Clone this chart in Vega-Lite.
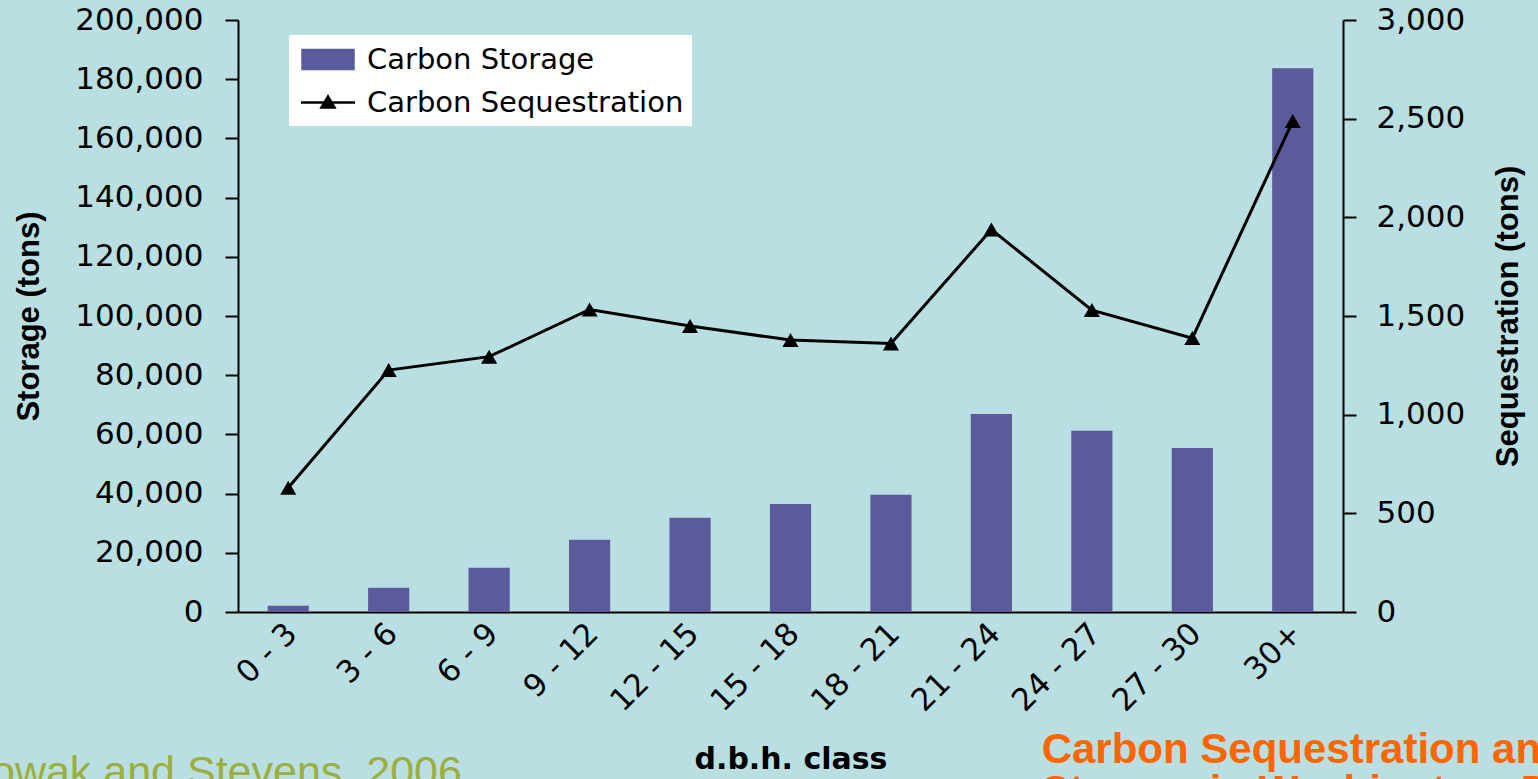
{
  "$schema": "https://vega.github.io/schema/vega-lite/v6.json",
  "width": 1105,
  "height": 592,
  "autosize": "none",
  "padding": {"left": 238, "top": 20, "right": 195, "bottom": 167},
  "background": "#B9DFE2",
  "config": {"view": {"stroke": null}, "axis": {"grid": false}},
  "datasets": {
    "dbh": [
      {"dbh_class": "0 - 3", "storage": 2100, "sequestration": 630},
      {"dbh_class": "3 - 6", "storage": 8200, "sequestration": 1226},
      {"dbh_class": "6 - 9", "storage": 14950, "sequestration": 1294},
      {"dbh_class": "9 - 12", "storage": 24400, "sequestration": 1533},
      {"dbh_class": "12 - 15", "storage": 31800, "sequestration": 1449},
      {"dbh_class": "15 - 18", "storage": 36500, "sequestration": 1378},
      {"dbh_class": "18 - 21", "storage": 39600, "sequestration": 1361},
      {"dbh_class": "21 - 24", "storage": 66900, "sequestration": 1938},
      {"dbh_class": "24 - 27", "storage": 61200, "sequestration": 1530},
      {"dbh_class": "27 - 30", "storage": 55400, "sequestration": 1388},
      {"dbh_class": "30+", "storage": 183700, "sequestration": 2488}
    ]
  },
  "resolve": {"scale": {"y": "independent"}},
  "layer": [
    {
      "data": {"name": "dbh"},
      "mark": {"type": "bar", "width": {"band": 0.41}},
      "encoding": {
        "x": {
          "field": "dbh_class", "type": "nominal",
          "scale": {"domain": ["0 - 3", "3 - 6", "6 - 9", "9 - 12", "12 - 15", "15 - 18", "18 - 21", "21 - 24", "24 - 27", "27 - 30", "30+"], "paddingInner": 0, "paddingOuter": 0},
          "axis": {
            "orient": "bottom", "title": "d.b.h. class",
            "labelAngle": -45, "labelFont": "DejaVu Sans", "labelFontSize": 31, "labelColor": "black", "labelPadding": 6, "labelOffset": -7, "labelOverlap": false,
            "domainColor": "black", "domainWidth": 2, "tickColor": "black", "tickWidth": 2, "tickSize": 0, "tickBand": "extent",
            "encode": {"ticks": {"update": {"y2": {"value": -10}}}},
            "titleFont": "DejaVu Sans", "titleFontWeight": "bold", "titleFontSize": 30, "titleColor": "black",
            "titleY": 156, "titleBaseline": "alphabetic"
          }
        },
        "y": {
          "field": "storage", "type": "quantitative",
          "scale": {"domain": [0, 200000], "nice": false},
          "axis": {
            "orient": "left", "values": [0, 20000, 40000, 60000, 80000, 100000, 120000, 140000, 160000, 180000, 200000], "format": ",d",
            "domainColor": "black", "domainWidth": 2, "tickColor": "black", "tickWidth": 2, "tickSize": 13,
            "encode": {"ticks": {"update": {"x": {"value": 13}}}},
            "labelFont": "DejaVu Sans", "labelFontSize": 31, "labelColor": "black", "labelPadding": 22,
            "title": "Storage (tons)", "titleFont": "Liberation Sans", "titleFontWeight": "bold", "titleFontSize": 31, "titleColor": "black",
            "titleX": -209, "titleY": 296, "titleAngle": 270, "titleBaseline": "middle", "titleAlign": "center"
          }
        },
        "color": {
          "datum": "Carbon Storage", "type": "nominal",
          "scale": {"domain": ["Carbon Storage", "Carbon Sequestration"], "range": ["#5B5A9A", "#000000"]},
          "legend": {
            "orient": "none", "legendX": 51, "legendY": 15, "title": null,
            "fillColor": "white", "padding": 8, "rowPadding": 11,
            "symbolSize": 900, "symbolOffset": 14.5, "labelOffset": 22.5,
            "labelFont": "DejaVu Sans", "labelFontSize": 29, "labelColor": "black", "labelLimit": 600,
            "encode": {"symbols": {"update": {
              "shape": {"signal": "datum.value === 'Carbon Storage' ? 'M-1.7,-0.633H1.7V0.633H-1.7Z' : 'M-1.8,0H1.8M-0.433,0.333L0.433,0.333L0,-0.4Z'"},
              "fill": {"signal": "datum.value === 'Carbon Storage' ? '#5B5A9A' : '#000000'"},
              "stroke": {"signal": "datum.value === 'Carbon Storage' ? 'transparent' : '#000000'"},
              "strokeWidth": {"value": 2.5},
              "opacity": {"value": 1}
            }}}
          }
        }
      }
    },
    {
      "data": {"name": "dbh"},
      "mark": {"type": "line", "strokeWidth": 3, "point": {"shape": "triangle-up", "size": 260, "filled": true, "opacity": 1}},
      "encoding": {
        "x": {"field": "dbh_class", "type": "nominal"},
        "y": {
          "field": "sequestration", "type": "quantitative",
          "scale": {"domain": [0, 3000], "nice": false},
          "axis": {
            "orient": "right", "values": [0, 500, 1000, 1500, 2000, 2500, 3000], "format": ",d",
            "domainColor": "black", "domainWidth": 2, "tickColor": "black", "tickWidth": 2, "tickSize": 13,
            "encode": {"ticks": {"update": {"x": {"value": -13}}}},
            "labelFont": "DejaVu Sans", "labelFontSize": 31, "labelColor": "black", "labelPadding": 20,
            "title": "Sequestration (tons)", "titleFont": "Liberation Sans", "titleFontWeight": "bold", "titleFontSize": 31, "titleColor": "black",
            "titleX": 165, "titleY": 296, "titleAngle": 270, "titleBaseline": "middle", "titleAlign": "center"
          }
        },
        "color": {"datum": "Carbon Sequestration", "type": "nominal"}
      }
    },
    {
      "data": {"values": [{"note": "Nowak and Stevens, 2006"}]},
      "mark": {"type": "text", "font": "Liberation Sans", "fontSize": 43, "color": "#9BAE3E", "align": "right", "baseline": "alphabetic", "dx": 23},
      "encoding": {
        "x": {"datum": "3 - 6", "type": "nominal", "bandPosition": 1},
        "y": {"datum": -58800, "type": "quantitative", "scale": {"domain": [0, 200000], "nice": false}, "axis": null},
        "text": {"field": "note", "type": "nominal"}
      }
    },
    {
      "data": {"values": [{"note": "Carbon Sequestration and\nStorage in Washington, D.C."}]},
      "mark": {"type": "text", "font": "Liberation Sans", "fontWeight": "bold", "fontSize": 42, "color": "#FF6600", "align": "left", "baseline": "alphabetic", "lineBreak": "\n", "lineHeight": 42},
      "encoding": {
        "x": {"datum": "24 - 27", "type": "nominal", "bandPosition": 0},
        "y": {"datum": -51000, "type": "quantitative", "scale": {"domain": [0, 200000], "nice": false}, "axis": null},
        "text": {"field": "note", "type": "nominal"}
      }
    }
  ]
}
